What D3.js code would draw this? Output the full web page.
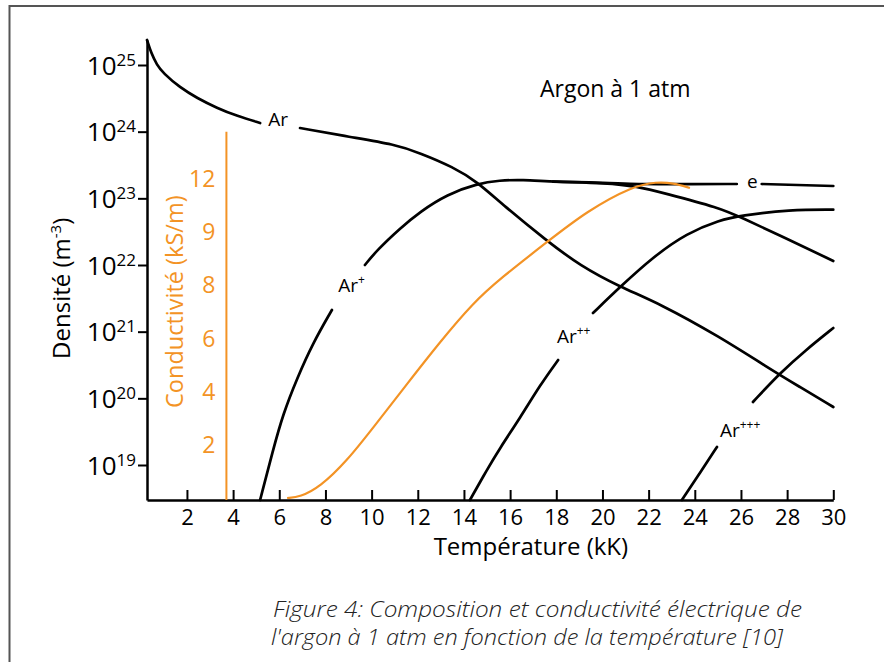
<!DOCTYPE html>
<html><head><meta charset="utf-8">
<script src="https://cdn.jsdelivr.net/npm/d3@7"></script>
<style>
body{margin:0;background:#fff}
svg{display:block}
text{font-family:"Open Sans","Noto Sans",sans-serif}
</style>
</head><body>
<svg id="chart" width="884" height="662"></svg>
<script>
// ---------- data ----------
const temperatureTicks = [2,4,6,8,10,12,14,16,18,20,22,24,26,28,30];   // kK
const densityExponents = [19,20,21,22,23,24,25];                      // log10(m^-3)
const conductivityLevels = [0,2,4,6,8,9,12];                          // axis levels (evenly spaced on the figure)
const conductivityTickLabels = [2,4,6,8,9,12];                        // kS/m

// [T (kK), log10 density]; null = break in the line where a label sits
const arNeutral = [[0.27,25.375],[0.45,25.18],[0.7,25.0],[0.97,24.88],[1.70,24.66],[2.44,24.505],[3.30,24.355],[4.17,24.235],[5.17,24.13],
  null,[6.90,24.055],[9.06,23.92],[11.0,23.81],[12.10,23.68],[13.53,23.47],[14.57,23.25],[15.69,22.90],[17.60,22.36],
  [19.03,21.99],[20.76,21.67],[22.49,21.42],[25.09,20.92],[27.12,20.47],[28.55,20.17],[30.0,19.87]];
const arPlus = [[5.17,18.475],[5.73,19.225],[6.16,19.76],[6.77,20.30],[7.46,20.83],[8.28,21.325],
  null,[9.71,22.0],[10.24,22.225],[11.23,22.55],[12.10,22.80],[13.27,23.06],[14.57,23.22],[15.56,23.27],[16.5,23.28],[17.86,23.25],
  [20.19,23.23],[21.49,23.18],[22.65,23.08],[25.09,22.855],[25.96,22.72],[28.12,22.375],[30.0,22.06]];
const electrons = [[17.86,23.25],[20.19,23.235],[21.49,23.21],[23.35,23.215],[25.82,23.215],
  null,[26.9,23.215],[30.0,23.185]];
const arPlus2 = [[14.26,18.475],[14.99,18.925],[15.56,19.255],[16.43,19.705],[17.30,20.20],[18.08,20.575],
  null,[19.59,21.28],[20.76,21.67],[22.19,22.12],[23.66,22.48],[25.09,22.675],[25.96,22.74],[28.12,22.83],[30.0,22.83]];
const arPlus3 = [[23.44,18.475],[24.22,18.88],[24.96,19.27],
  null,[26.52,19.945],[27.69,20.38],[28.81,20.725],[30.0,21.055]];
// [T (kK), conductivity (kS/m)]
const conductivity = [[6.34,0],[6.90,0.04],[7.76,0.41],[8.93,1.39],[10.06,2.63],[11.53,4.27],[12.96,5.85],[14.39,7.31],
  [15.56,8.11],[17.60,8.80],[19.33,10.14],[21.32,11.55],[22.36,11.78],[23.05,11.72],[23.79,11.44]];

const ionLabels = [
  {base:"Ar", sup:"",    T:5.52,  n:24.08},
  {base:"Ar", sup:"+",   T:8.55,  n:21.595},
  {base:"Ar", sup:"++",  T:18.03, n:20.83},
  {base:"Ar", sup:"+++", T:25.09, n:19.425},
  {base:"e",  sup:"",    T:26.26, n:23.155}
];
const conductivityAxisT = 3.71;

// ---------- layout ----------
const plot = {left:147, right:833.3, top:40, bottom:500};
const ORANGE = "#f39325";
const svg = d3.select("#chart");

// frame
svg.append("path").attr("d", d3.line()([[9.5,662],[9.5,6],[884,6]]))
  .attr("fill","none").attr("stroke","#555").attr("stroke-width",2);

const x = d3.scaleLinear().domain([0.27,30]).range([plot.left, plot.right]);
const y = d3.scaleLinear().domain([18.475,25.375]).range([plot.bottom, plot.top]);
const yc = d3.scaleLinear().domain(conductivityLevels)
  .range(d3.quantize(d3.interpolate(plot.bottom-2, y(23.305)), conductivityLevels.length));

// x axis
const gx = svg.append("g").attr("transform",`translate(0,${plot.bottom})`)
  .call(d3.axisBottom(x).tickValues(temperatureTicks).tickSize(-10).tickSizeOuter(0).tickPadding(9));
gx.select(".domain").attr("stroke","#000").attr("stroke-width",2.5);
gx.selectAll(".tick line").attr("stroke","#000").attr("stroke-width",2);
gx.selectAll(".tick text").attr("font-size",22).attr("fill","#000")
  .attr("font-family","'Open Sans',sans-serif");

svg.append("text").attr("x", x(16.9)).attr("y",555)
  .attr("text-anchor","middle").attr("font-size",24).text("Température (kK)");

// y axis
const gy = svg.append("g").attr("transform",`translate(${plot.left},0)`)
  .call(d3.axisLeft(y).tickValues(densityExponents).tickSize(9).tickSizeOuter(0).tickFormat(""));
gy.select(".domain").attr("stroke","#000").attr("stroke-width",2.5);
gy.selectAll(".tick line").attr("stroke","#000").attr("stroke-width",2);

const yl = svg.append("g").selectAll("text").data(densityExponents).join("text")
  .attr("x", plot.left-11).attr("y", d => y(d)+9.5)
  .attr("text-anchor","end").attr("font-size",26);
yl.append("tspan").text("10");
yl.append("tspan").attr("font-size",17).attr("dy",-9).text(d => d);

// density title
const dt = svg.append("text").attr("transform",`translate(70,${y(21.65)}) rotate(-90)`)
  .attr("text-anchor","middle").attr("font-size",24);
dt.append("tspan").text("Densité (m");
dt.append("tspan").attr("font-size",15).attr("dy",-9).text("-3");
dt.append("tspan").attr("dy",9).text(")");

// conductivity axis
const cx = x(conductivityAxisT);
svg.append("line").attr("x1",cx).attr("x2",cx).attr("y1",plot.bottom).attr("y2",y(24))
  .attr("stroke",ORANGE).attr("stroke-width",2);
svg.append("g").selectAll("text").data(conductivityTickLabels).join("text")
  .attr("x", cx-11).attr("y", d => yc(d)+8.5).attr("text-anchor","end")
  .attr("font-size",23).attr("fill",ORANGE).text(d => d);
svg.append("text").attr("transform",`translate(${cx-43},${(yc(4)+yc(6))/2 - 63}) rotate(-90)`)
  .attr("text-anchor","middle").attr("font-size",23.5).attr("fill",ORANGE).text("Conductivité (kS/m)");

// curves
const line = d3.line().defined(d => d !== null).x(d => x(d[0])).y(d => y(d[1])).curve(d3.curveBasis);
[arNeutral, arPlus, electrons, arPlus2, arPlus3].forEach(s => {
  svg.append("path").attr("d", line(s)).attr("fill","none").attr("stroke","#000")
    .attr("stroke-width",2.7).attr("stroke-linejoin","round").attr("stroke-linecap","round");
});
const cline = d3.line().x(d => x(d[0])).y(d => yc(d[1])).curve(d3.curveBasis);
svg.append("path").attr("d", cline(conductivity)).attr("fill","none").attr("stroke",ORANGE).attr("stroke-width",2.2);

// ion labels
const il = svg.append("g").selectAll("text").data(ionLabels).join("text")
  .attr("x", d => x(d.T)).attr("y", d => y(d.n)).attr("font-size",19);
il.append("tspan").text(d => d.base);
il.append("tspan").attr("font-size",12).attr("dy",-8).text(d => d.sup);

// title
svg.append("text").attr("x",540).attr("y",97).attr("font-size",23).text("Argon à 1 atm");

// caption
const cap = svg.append("g").attr("font-style","italic").attr("font-weight",300).attr("font-size",21.5).attr("fill","#222");
cap.append("text").attr("x",273).attr("y",617).attr("textLength",529).attr("lengthAdjust","spacingAndGlyphs")
  .text("Figure 4: Composition et conductivité électrique de");
cap.append("text").attr("x",271).attr("y",645).attr("textLength",512).attr("lengthAdjust","spacingAndGlyphs")
  .text("l'argon à 1 atm en fonction de la température [10]");
</script>
</body></html>
